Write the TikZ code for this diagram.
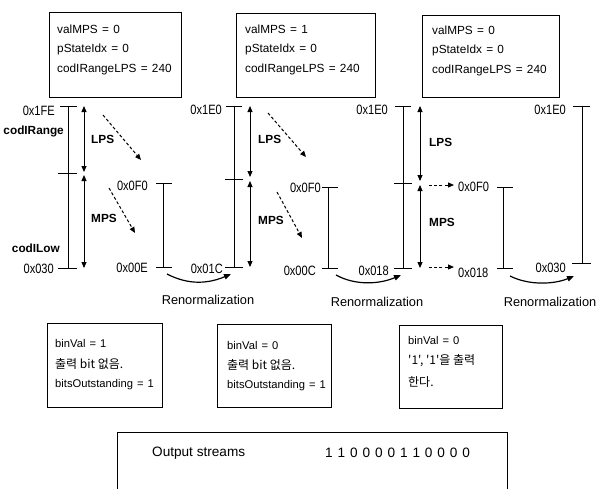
\documentclass[tikz,border=0pt]{standalone}
\usepackage{fontspec}
\setmainfont{Liberation Sans}
\newfontfamily\kr{Noto Sans CJK KR}
\newfontfamily\boxf[WordSpace=1.3]{Liberation Sans}
\newfontfamily\hexf[FakeStretch=0.82]{Liberation Sans}
\newfontfamily\digf[WordSpace=1.3]{Liberation Sans}
\usetikzlibrary{arrows.meta}
\begin{document}
\begin{tikzpicture}[x=1pt,y=-1pt,
  tbox/.style={draw, line width=0.9pt, inner sep=0pt},
  txt/.style={anchor=west, inner sep=0pt, font=\boxf\fontsize{11.8}{14}\selectfont},
  btxt/.style={anchor=west, inner sep=0pt, font=\boxf\fontsize{11.2}{14}\selectfont},
  krtxt/.style={anchor=west, inner sep=0pt, font=\kr\fontsize{12}{14}\selectfont},
  hexl/.style={inner sep=0pt, font=\hexf\fontsize{13.5}{15}\selectfont},
  bl/.style={inner sep=0pt, font=\bfseries\fontsize{11.8}{13}\selectfont},
  ren/.style={inner sep=0pt, font=\fontsize{12.8}{14}\selectfont},
  barl/.style={line width=0.8pt},
  dbl/.style={line width=0.9pt, {Triangle[length=6pt,width=5pt]}-{Triangle[length=6pt,width=5pt]}},
  dsh/.style={line width=1pt, dash pattern=on 3pt off 2.2pt, -{Triangle[length=6pt,width=5pt]}},
  crv/.style={line width=1.2pt, -{Triangle[length=7pt,width=5.5pt]}}
]
\useasboundingbox (0,0) rectangle (596,488);

% ---------- top boxes ----------
\node[tbox, minimum width=132pt, minimum height=85pt] (topA) at (115,54.5) {};
\node[txt] (tA1) at (57,29) {valMPS = 0};
\node[txt] (tA2) at (57,49) {pStateIdx = 0};
\node[txt] (tA3) at (57,69) {codIRangeLPS = 240};

\node[tbox, minimum width=139pt, minimum height=84pt] (topB) at (305.5,55) {};
\node[txt] (tB1) at (245,29) {valMPS = 1};
\node[txt] (tB2) at (245,49) {pStateIdx = 0};
\node[txt] (tB3) at (245,69) {codIRangeLPS = 240};

\node[tbox, minimum width=137pt, minimum height=82pt] (topC) at (490.5,56) {};
\node[txt] (tC1) at (432,30) {valMPS = 0};
\node[txt] (tC2) at (432,50) {pStateIdx = 0};
\node[txt] (tC3) at (432,70) {codIRangeLPS = 240};

% ---------- column 1 ----------
\coordinate (a1t) at (68,106); \coordinate (a1b) at (68,268);
\draw[barl] (a1t) -- (a1b);
\draw[barl] (60,106) -- (77,106);
\draw[barl] (58,173) -- (77,173);
\draw[barl] (58,268) -- (77,268);
\node[hexl, anchor=east] (l1a) at (55,111) {0x1FE};
\node[bl, anchor=east] (l1b) at (64,131) {codIRange};
\node[bl, anchor=east] (l1c) at (60,248) {codILow};
\node[hexl, anchor=east] (l1d) at (54,269) {0x030};
\coordinate (p1a) at (84,106); \coordinate (p1b) at (84,172);
\coordinate (p1c) at (84,175); \coordinate (p1d) at (84,268);
\draw[dbl] (p1a) -- (p1b);
\draw[dbl] (p1c) -- (p1d);
\node[bl, anchor=west] (lps1) at (91,139) {LPS};
\node[bl, anchor=west] (mps1) at (91,218) {MPS};
\coordinate (d1a) at (103,115); \coordinate (d1b) at (141,160);
\coordinate (d1c) at (109,188); \coordinate (d1d) at (135,233);
\draw[dsh] (d1a) -- (d1b);
\draw[dsh] (d1c) -- (d1d);
% sub bar
\coordinate (s1t) at (163,183); \coordinate (s1b) at (163,267);
\draw[barl] (s1t) -- (s1b);
\draw[barl] (156,183) -- (172,183);
\draw[barl] (156,267) -- (172,267);
\node[hexl, anchor=east] (l1e) at (148,186) {0x0F0};
\node[hexl, anchor=east] (l1f) at (148,268) {0x00E};
\coordinate (r1a) at (167,274); \coordinate (r1b) at (231,274);
\draw[crv] (r1a) .. controls (190,286) and (210,283) .. (r1b);
\node[ren] (ren1) at (208,300) {Renormalization};
\node[hexl, anchor=east] (l1g) at (223,269) {0x01C};

% ---------- column 2 ----------
\coordinate (a2t) at (234,106); \coordinate (a2b) at (234,267);
\draw[barl] (a2t) -- (a2b);
\draw[barl] (226,106) -- (242,106);
\draw[barl] (225,179) -- (243,179);
\draw[barl] (225,267) -- (243,267);
\node[hexl, anchor=east] (l2a) at (222,110) {0x1E0};
\coordinate (p2a) at (250,106); \coordinate (p2b) at (250,177);
\coordinate (p2c) at (250,181); \coordinate (p2d) at (250,267);
\draw[dbl] (p2a) -- (p2b);
\draw[dbl] (p2c) -- (p2d);
\node[bl, anchor=west] (lps2) at (258,139) {LPS};
\node[bl, anchor=west] (mps2) at (258,220) {MPS};
\coordinate (d2a) at (268,113); \coordinate (d2b) at (306,157);
\coordinate (d2c) at (277,192); \coordinate (d2d) at (302,238);
\draw[dsh] (d2a) -- (d2b);
\draw[dsh] (d2c) -- (d2d);
\coordinate (s2t) at (328,187); \coordinate (s2b) at (328,268);
\draw[barl] (s2t) -- (s2b);
\draw[barl] (322,187) -- (338,187);
\draw[barl] (322,268) -- (338,268);
\node[hexl, anchor=east] (l2b) at (321,188) {0x0F0};
\node[hexl, anchor=east] (l2c) at (316,271) {0x00C};
\coordinate (r2a) at (336,275); \coordinate (r2b) at (401,275);
\draw[crv] (r2a) .. controls (356,286) and (380,284) .. (r2b);
\node[ren] (ren2) at (377,302) {Renormalization};
\node[hexl, anchor=east] (l2d) at (389,271) {0x018};

% ---------- column 3 ----------
\coordinate (a3t) at (403,106); \coordinate (a3b) at (403,268);
\draw[barl] (a3t) -- (a3b);
\draw[barl] (395,106) -- (411,106);
\draw[barl] (394,183) -- (412,183);
\draw[barl] (394,268) -- (412,268);
\node[hexl, anchor=east] (l3a) at (388,110) {0x1E0};
\coordinate (p3a) at (420,106); \coordinate (p3b) at (420,181);
\coordinate (p3c) at (420,185); \coordinate (p3d) at (420,268);
\draw[dbl] (p3a) -- (p3b);
\draw[dbl] (p3c) -- (p3d);
\node[bl, anchor=west] (lps3) at (429,142) {LPS};
\node[bl, anchor=west] (mps3) at (429,222) {MPS};
\coordinate (d3a) at (429,185); \coordinate (d3b) at (454,185);
\coordinate (d3c) at (429,267); \coordinate (d3d) at (454,267);
\draw[dsh] (d3a) -- (d3b);
\draw[dsh] (d3c) -- (d3d);
\node[hexl, anchor=west] (l3b) at (458,187) {0x0F0};
\node[hexl, anchor=west] (l3c) at (458,273) {0x018};
\coordinate (s3t) at (503,187); \coordinate (s3b) at (503,268);
\draw[barl] (s3t) -- (s3b);
\draw[barl] (497,187) -- (513,187);
\draw[barl] (497,268) -- (513,268);
\coordinate (r3a) at (510,276); \coordinate (r3b) at (574,276);
\draw[crv] (r3a) .. controls (530,286) and (555,284) .. (r3b);
\node[ren] (ren3) at (550,302) {Renormalization};
\node[hexl, anchor=east] (l3d) at (566,268) {0x030};

% ---------- column 4 ----------
\coordinate (a4t) at (582,106); \coordinate (a4b) at (582,263);
\draw[barl] (a4t) -- (a4b);
\draw[barl] (573,106) -- (590,106);
\draw[barl] (572,263) -- (591,263);
\node[hexl, anchor=east] (l4a) at (566,110) {0x1E0};

% ---------- bottom boxes ----------
\node[tbox, minimum width=115pt, minimum height=84pt] (botA) at (104.5,365) {};
\node[btxt] (uA1) at (55,343) {binVal = 1};
\node[krtxt] (uA2) at (55,364) {출력 bit 없음.};
\node[btxt] (uA3) at (55,385) {bitsOutstanding = 1};

\node[tbox, minimum width=114pt, minimum height=83pt] (botB) at (274,365.5) {};
\node[btxt] (uB1) at (227,345) {binVal = 0};
\node[krtxt] (uB2) at (227,365) {출력 bit 없음.};
\node[btxt] (uB3) at (227,386) {bitsOutstanding = 1};

\node[tbox, minimum width=103pt, minimum height=83pt] (botC) at (450.5,366.5) {};
\node[btxt] (uC1) at (408,340) {binVal = 0};
\node[krtxt] (uC2) at (408,361) {'1', '1'을 출력};
\node[krtxt] (uC3) at (408,382) {한다.};

% ---------- output streams ----------
\node[tbox, minimum width=390pt, minimum height=70pt] (outb) at (312,467) {};
\node[anchor=west, inner sep=0pt, font=\fontsize{13.6}{15}\selectfont] (os1) at (152,453) {Output streams};
\node[anchor=west, inner sep=0pt, font=\digf\fontsize{13.6}{15}\selectfont] (os2) at (325,453) {1 1 0 0 0 0 1 1 0 0 0 0};
\end{tikzpicture}
\end{document}
